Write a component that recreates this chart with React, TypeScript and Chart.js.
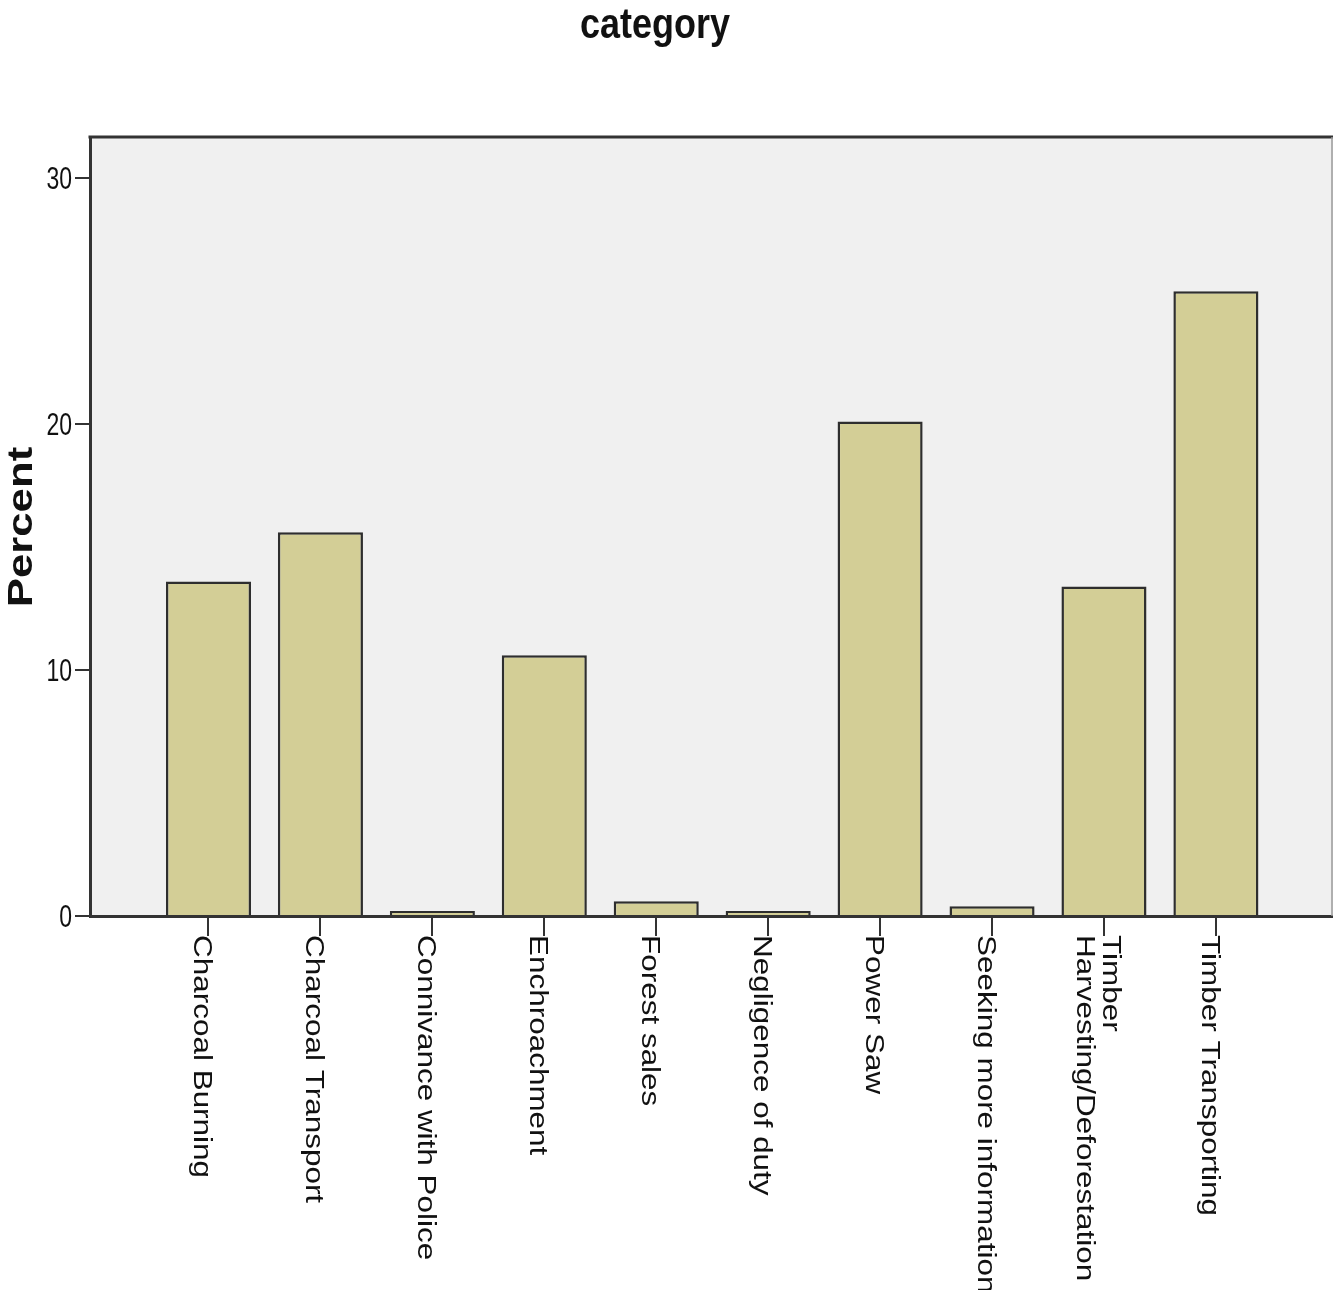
import React, { useEffect, useRef } from "react";
import { Chart, registerables } from "chart.js";

Chart.register(...registerables);

const categories: string[][] = [
  ["Charcoal Burning"],
  ["Charcoal Transport"],
  ["Connivance with Police"],
  ["Enchroachment"],
  ["Forest sales"],
  ["Negligence of duty"],
  ["Power Saw"],
  ["Seeking more information"],
  ["Timber", "Harvesting/Deforestation"],
  ["Timber Transporting"],
];
const percents: number[] = [13.6, 15.6, 0.2, 10.6, 0.6, 0.2, 20.1, 0.4, 13.4, 25.4];
const yTicks: number[] = [0, 10, 20, 30];
const titleText = "category";
const yTitleText = "Percent";

const W = 1333;
const H = 1290;

const textPlugin = {
  id: "spssText",
  beforeDraw(chart: any) {
    const { ctx, chartArea } = chart;
    ctx.save();
    ctx.fillStyle = "#f0f0f0";
    ctx.fillRect(chartArea.left, chartArea.top, chartArea.right - chartArea.left, chartArea.bottom - chartArea.top);
    ctx.restore();
  },
  afterDraw(chart: any) {
    const { ctx, chartArea, scales } = chart;
    const xs = scales.x;
    const ys = scales.y;
    ctx.save();
    // frame: top and right
    ctx.strokeStyle = "#333333";
    ctx.lineWidth = 3;
    ctx.beginPath();
    ctx.moveTo(chartArea.left - 1.5, chartArea.top);
    ctx.lineTo(chartArea.right, chartArea.top);
    ctx.stroke();
    ctx.strokeStyle = "#9a9a9a";
    ctx.lineWidth = 1.5;
    ctx.beginPath();
    ctx.moveTo(chartArea.right - 1, chartArea.top);
    ctx.lineTo(chartArea.right - 1, chartArea.bottom);
    ctx.stroke();

    ctx.fillStyle = "#111111";
    // title
    ctx.save();
    ctx.translate(655, 38);
    ctx.scale(1, 1.2);
    ctx.font = "bold 36px 'Liberation Sans', Arial, sans-serif";
    ctx.textAlign = "center";
    ctx.textBaseline = "alphabetic";
    ctx.fillText(titleText, 0, 0);
    ctx.restore();

    // y title
    ctx.save();
    ctx.translate(32, 527);
    ctx.rotate(-Math.PI / 2);
    ctx.scale(1.25, 1);
    ctx.font = "bold 35px 'Liberation Sans', Arial, sans-serif";
    ctx.textAlign = "center";
    ctx.textBaseline = "alphabetic";
    ctx.fillText(yTitleText, 0, 0);
    ctx.restore();

    // y tick labels
    yTicks.forEach((v) => {
      const py = ys.getPixelForValue(v);
      ctx.save();
      ctx.translate(72, py + 2);
      ctx.scale(1, 1.38);
      ctx.font = "23px 'Liberation Sans', Arial, sans-serif";
      ctx.textAlign = "right";
      ctx.textBaseline = "middle";
      ctx.fillText(String(v), 0, 0);
      ctx.restore();
    });

    // x tick labels, rotated clockwise
    categories.forEach((lines, i) => {
      const px = xs.getPixelForValue(i);
      const n = lines.length;
      ctx.save();
      ctx.translate(px, 935);
      ctx.rotate(Math.PI / 2);
      ctx.scale(1.21, 1);
      ctx.font = "26px 'Liberation Sans', Arial, sans-serif";
      ctx.textAlign = "left";
      ctx.textBaseline = "alphabetic";
      lines.forEach((line, k) => {
        const ty = 14 + (k - (n - 1) / 2) * 26;
        ctx.fillText(line, 0, ty);
      });
      ctx.restore();
    });
    ctx.restore();
  },
};

export default function App() {
  const ref = useRef<HTMLCanvasElement | null>(null);
  useEffect(() => {
    document.body.style.margin = "0";
    const canvas = ref.current;
    if (!canvas) return;
    const chart = new Chart(canvas, {
      type: "bar",
      data: {
        datasets: [
          {
            label: "Percent",
            data: percents.map((v, i) => ({ x: i, y: v })),
            backgroundColor: "#d3ce96",
            borderColor: "#2e2e2e",
            borderWidth: 2.5,
            categoryPercentage: 1,
            barPercentage: 0.76,
          },
        ],
      },
      options: {
        animation: false,
        responsive: false,
        devicePixelRatio: 1,
        layout: { padding: { top: 137, left: 0, right: 0, bottom: 0 } },
        plugins: {
          legend: { display: false },
          title: { display: false },
          tooltip: { enabled: false },
        },
        scales: {
          x: {
            type: "linear",
            offset: false,
            min: -1.0586,
            max: 10.046,
            afterBuildTicks: (scale: any) => {
              scale.ticks = categories.map((_, i) => ({ value: i }));
            },
            afterFit: (scale: any) => {
              scale.height = H - 916;
            },
            ticks: { display: false },
            grid: {
              offset: false,
              drawOnChartArea: false,
              drawTicks: true,
              tickLength: 20,
              color: "#333333",
              lineWidth: 2,
            },
            border: { display: true, color: "#333333", width: 3 },
          },
          y: {
            min: 0,
            max: 31.67,
            afterBuildTicks: (scale: any) => {
              scale.ticks = yTicks.map((v) => ({ value: v }));
            },
            afterFit: (scale: any) => {
              scale.width = 90;
            },
            ticks: { display: false },
            grid: {
              drawOnChartArea: false,
              drawTicks: true,
              tickLength: 15,
              color: "#333333",
              lineWidth: 2,
            },
            border: { display: true, color: "#333333", width: 3 },
          },
        },
      } as any,
      plugins: [textPlugin],
    });
    return () => chart.destroy();
  }, []);
  return (
    <div style={{ width: W, height: H, background: "#ffffff" }}>
      <canvas ref={ref} width={W} height={H} style={{ width: W, height: H, display: "block" }} />
    </div>
  );
}
